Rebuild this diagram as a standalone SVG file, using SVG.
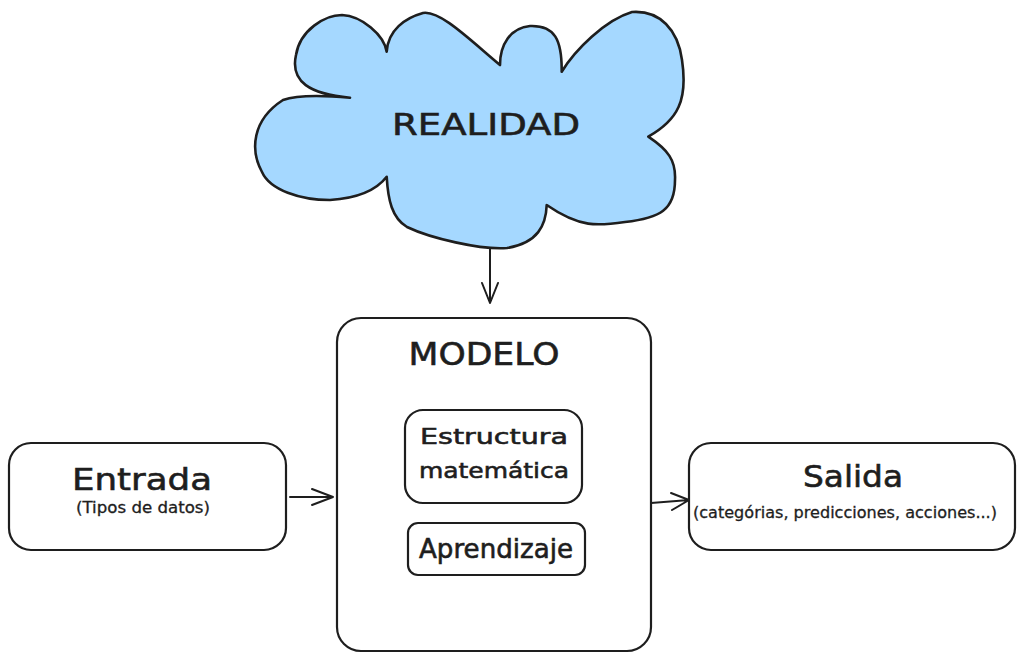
<svg xmlns="http://www.w3.org/2000/svg" width="1026" height="662" viewBox="0 0 1026 662">
<defs>
<style>
.box{fill:#ffffff;stroke:#1e1e1e;stroke-width:2.2;}
.cloud{fill:#a5d8ff;stroke:#1e1e1e;stroke-width:2.6;stroke-linejoin:round;}
.t{font-family:"DejaVu Sans","Liberation Sans",sans-serif;fill:#1e1e1e;text-anchor:middle;stroke:#1e1e1e;stroke-width:0.6;}
.s{stroke-width:0.3;}
.c{fill:none;stroke:#1e1e1e;stroke-width:2;stroke-linecap:round;stroke-linejoin:round;}
</style>
</defs>
<rect width="1026" height="662" fill="#ffffff"/>
<g id="realidad">
<path class="cloud" d="M350,97.7 C310,94 290,82 296,55 C300,30 325,15 342,15 C362,16 384,35 386.7,51.7 C388,30 405,18 423,13 C440,10 470,40 500,65 C500,45 510,28 530,26 C555,25 562,40 561.7,71.7 C575,50 605,20 632,12 C660,10 678,30 682,60 C688,100 678,120 648.3,136.7 C668,150 676,160 675,180 C675,210 660,218 625,222 C598,226 580,228 546.7,205 C546,225 538,243 507,248 C480,250 430,238 407,227 C392,218 388,200 386.7,176.7 C378,188 360,198 330,200 C300,200 270,190 262,172 C250,150 252,120 283,100 C300,94 330,96 350,97.7 Z"/>
<text class="t" x="486" y="135" font-size="30" textLength="188" lengthAdjust="spacingAndGlyphs">REALIDAD</text>
</g>
<g id="modelo">
<rect class="box" x="337" y="318" width="314" height="333" rx="24"/>
<text class="t" x="484" y="365" font-size="32" textLength="151" lengthAdjust="spacingAndGlyphs">MODELO</text>
</g>
<g id="estructura">
<rect class="box" x="405" y="410" width="177" height="93" rx="18"/>
<text class="t" x="494" y="444" font-size="22" textLength="148" lengthAdjust="spacingAndGlyphs">Estructura</text>
<text class="t" x="494" y="478" font-size="22" textLength="150" lengthAdjust="spacingAndGlyphs">matemática</text>
</g>
<g id="aprendizaje">
<rect class="box" x="408" y="523" width="177" height="52" rx="10"/>
<text class="t" x="496" y="558" font-size="26" textLength="154" lengthAdjust="spacingAndGlyphs">Aprendizaje</text>
</g>
<g id="entrada">
<rect class="box" x="9" y="443" width="277" height="107" rx="22"/>
<text class="t" x="142" y="490" font-size="30" textLength="140" lengthAdjust="spacingAndGlyphs">Entrada</text>
<text class="t s" x="143" y="513" font-size="15" textLength="134" lengthAdjust="spacingAndGlyphs">(Tipos de datos)</text>
</g>
<g id="salida">
<rect class="box" x="689" y="443" width="326" height="107" rx="22"/>
<text class="t" x="853" y="487" font-size="30" textLength="100" lengthAdjust="spacingAndGlyphs">Salida</text>
<text class="t s" x="845" y="518" font-size="15" textLength="304" lengthAdjust="spacingAndGlyphs">(categórias, predicciones, acciones...)</text>
</g>
<g id="connectors">
<path class="c" d="M490,248 L490,303 M482,283 L490,303 L498,283"/>
<path class="c" d="M290,497 L333,497 M312,489 L333,497 L312,505"/>
<path class="c" d="M651,503 L689,500 M671,493 L689,500 L672,510"/>
</g>
</svg>
